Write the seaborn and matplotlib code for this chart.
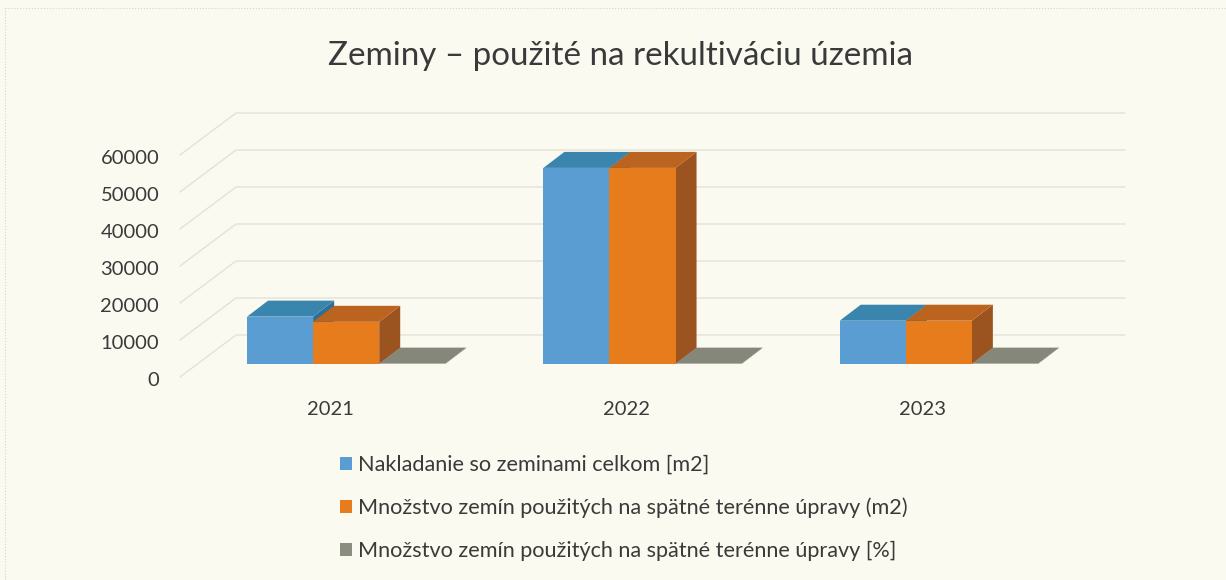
"""Zeminy - 3D-looking bar chart"""

import pandas as pd
import seaborn as sns
import matplotlib.pyplot as plt
from matplotlib.patches import Polygon
from matplotlib.transforms import Affine2D

sns.set_theme(style="white")
plt.rcParams["font.family"] = ["Lato", "DejaVu Sans"]

years = ["2021", "2022", "2023"]
celkom_m2 = [12800, 53000, 11700]
spatne_m2 = [11400, 53000, 11700]
spatne_pct = [100, 100, 100]
series_names = [
    "Nakladanie so zeminami celkom [m2]",
    "Množstvo zemín použitých na spätné terénne úpravy (m2)",
    "Množstvo zemín použitých na spätné terénne úpravy [%]",
]
y_ticks = [0, 10000, 20000, 30000, 40000, 50000, 60000]

front_colors = ["#5a9dd3", "#e67c1b", "#8b8d7f"]
top_colors = ["#3a85ae", "#bb6420", "#85877a"]
side_colors = ["#2f6f95", "#9b5320", "#77796d"]
paper = "#fafaf0"
grid_color = "#e3e2d6"
text_color = "#3a3a3a"

W, H = 1226, 580
data = pd.DataFrame(
    {
        "rok": years * 3,
        "hodnota": celkom_m2 + spatne_m2 + spatne_pct,
        "rada": [n for n in series_names for _ in years],
    }
)

fig = plt.figure(figsize=(W / 100, H / 100), dpi=100, facecolor=paper)
# axes = front plane of the fake 3D box, in reference pixels
ax = fig.add_axes([180 / W, (H - 377) / H, 889 / W, 222 / H])
ax.set_facecolor("none")

sns.barplot(
    data=data,
    x="rok",
    y="hodnota",
    hue="rada",
    palette=front_colors,
    saturation=1,
    width=198 / 296,
    linewidth=0,
    legend=False,
    ax=ax,
)
ax.set_xlim(-0.5, 2.5)
ax.set_ylim(0, 60000)
ax.set_xlabel("")
ax.set_ylabel("")
ax.set_yticks(y_ticks)
ax.set_yticklabels([str(t) for t in y_ticks])
ax.tick_params(axis="y", length=0, pad=15, labelsize=14.5, labelcolor=text_color)
ax.tick_params(axis="x", length=0, pad=17.5, labelsize=14.5, labelcolor=text_color)
sns.despine(ax=ax, left=True, bottom=True)

# nudge tick labels by a couple of pixels
for label in ax.get_yticklabels():
    label.set_transform(label.get_transform() + Affine2D().translate(0, -2))
for label in ax.get_xticklabels():
    label.set_transform(label.get_transform() + Affine2D().translate(2, 0))

# back wall: grid lines and the diagonals going to the front plane
wall_dx = 56 * 3 / 889
wall_dy = 42 * 60000 / 222
wall_right = 2.5 + wall_dx
for t in y_ticks:
    ax.plot(
        [-0.5, -0.5 + wall_dx, wall_right],
        [t, t + wall_dy, t + wall_dy],
        color=grid_color,
        lw=1.0,
        clip_on=False,
        zorder=0.5,
    )

# bars stand inside the box, so shift them and add top and side faces
bar_shift = ax.transData + Affine2D().translate(18, 13)
depth_x = 21 * 3 / 889
depth_y = 16 * 60000 / 222
for i, container in enumerate(ax.containers):
    for bar in container:
        bar.set_transform(bar_shift)
        bar.set_clip_on(False)
        bar.set_zorder(3 + i)
        x0, x1 = bar.get_x(), bar.get_x() + bar.get_width()
        y1 = bar.get_height()
        top = [(x0, y1), (x1, y1), (x1 + depth_x, y1 + depth_y), (x0 + depth_x, y1 + depth_y)]
        side = [(x1, 0), (x1 + depth_x, depth_y), (x1 + depth_x, y1 + depth_y), (x1, y1)]
        for pts, col in ((side, side_colors[i]), (top, top_colors[i])):
            ax.add_patch(
                Polygon(pts, closed=True, facecolor=col, edgecolor="none",
                        transform=bar_shift, clip_on=False, zorder=2 + i)
            )

fig.text(620 / W, 1 - 56 / H, "Zeminy – použité na rekultiváciu územia",
         ha="center", va="center", fontsize=23.9, color=text_color)

handles = [c.patches[0] for c in ax.containers]
ax.legend(
    handles,
    series_names,
    loc="upper left",
    bbox_to_anchor=(340 / W, 1 - 455 / H),
    bbox_transform=fig.transFigure,
    frameon=False,
    fontsize=15.6,
    labelcolor=text_color,
    handlelength=0.55,
    handleheight=0.55,
    handletextpad=0.28,
    labelspacing=1.05,
    borderaxespad=0,
    borderpad=0,
)

# faint scan border of the page
fig.add_artist(plt.Line2D([5 / W, 5 / W], [0, 1 - 8 / H], color="#d8d6ca", lw=0.8, ls=":"))
fig.add_artist(plt.Line2D([5 / W, 1], [1 - 8 / H, 1 - 8 / H], color="#d8d6ca", lw=0.8, ls=":"))

fig.savefig("out.png", dpi=100, facecolor=paper)
